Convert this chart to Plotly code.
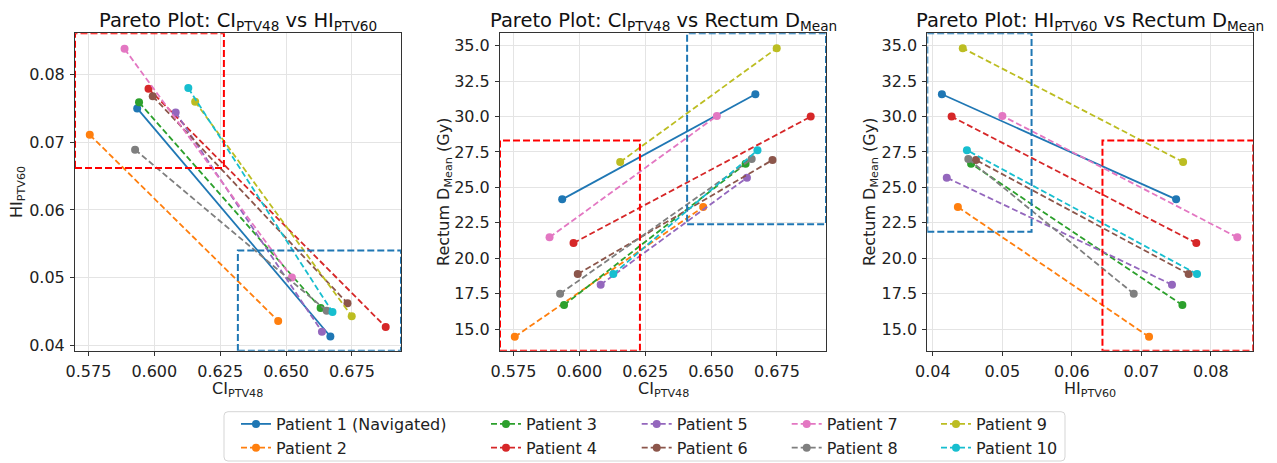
import plotly.graph_objects as go

# ---------------- data ----------------
patients = ["Patient 1 (Navigated)", "Patient 2", "Patient 3", "Patient 4", "Patient 5",
            "Patient 6", "Patient 7", "Patient 8", "Patient 9", "Patient 10"]
colors = ["#1f77b4", "#ff7f0e", "#2ca02c", "#d62728", "#9467bd",
          "#8c564b", "#e377c2", "#7f7f7f", "#bcbd22", "#17becf"]

# plan A (low CI / high HI / low Dmean) and plan B (high CI / low HI / high Dmean)
ci_a = [0.5935, 0.5755, 0.5942, 0.5978, 0.6081, 0.5994, 0.5887, 0.5927, 0.6155, 0.6129]
ci_b = [0.6668, 0.6470, 0.6631, 0.6878, 0.6636, 0.6733, 0.6522, 0.6654, 0.6749, 0.6676]
hi_a = [0.0750, 0.0711, 0.0759, 0.0779, 0.0744, 0.0768, 0.0838, 0.0689, 0.0760, 0.0780]
hi_b = [0.0413, 0.0436, 0.0455, 0.0427, 0.0420, 0.0462, 0.0500, 0.0451, 0.0443, 0.0449]
dmean_a = [24.15, 14.45, 16.69, 21.07, 18.13, 18.88, 21.47, 17.49, 26.79, 18.88]
dmean_b = [31.57, 23.61, 26.67, 29.99, 25.68, 26.93, 30.04, 27.00, 34.82, 27.62]

ci_ticks = [0.575, 0.600, 0.625, 0.650, 0.675]
ci_ticktext = ["0.575", "0.600", "0.625", "0.650", "0.675"]
hi_ticks = [0.04, 0.05, 0.06, 0.07, 0.08]
hi_ticktext = ["0.04", "0.05", "0.06", "0.07", "0.08"]
dmean_ticks = [15.0, 17.5, 20.0, 22.5, 25.0, 27.5, 30.0, 32.5, 35.0]
dmean_ticktext = ["15.0", "17.5", "20.0", "22.5", "25.0", "27.5", "30.0", "32.5", "35.0"]

# highlighted regions (red = low-CI/high-HI/low-dose, blue = high-CI/low-HI/high-dose)
ci_range = [0.5699, 0.6936]
hi_range = [0.0392, 0.0861]
dmean_range = [13.47, 35.87]
p1_red = dict(ci_max=0.6264, hi_min=0.0662)
p1_blue = dict(ci_min=0.6317, hi_max=0.0540)
p2_red = dict(ci_max=0.6230, d_max=28.3)
p2_blue = dict(ci_min=0.6409, d_min=22.4)
p3_blue = dict(hi_max=0.0542, d_min=21.87)
p3_red = dict(hi_min=0.0644, d_max=28.3)

# ---------------- layout geometry (screen px; page body has an 8px margin) ----------------
W, H = 1277, 463
OFF = 8
FONT = "DejaVu Sans"
def px_x(v):
    return (v - OFF) / W
def px_y(v):
    return 1 - (v - OFF) / H

dom_x = [(75, 401), (500, 826), (927.3, 1253.3)]
dom_y_top, dom_y_bot = 33.3, 350.7

fig = go.Figure()

panels = [
    ("x", "y", ci_a, ci_b, hi_a, hi_b),
    ("x2", "y2", ci_a, ci_b, dmean_a, dmean_b),
    ("x3", "y3", hi_a, hi_b, dmean_a, dmean_b),
]
legend_names = ["legend", "legend2", "legend3", "legend4", "legend5"]

for p, (xa, ya, xs_a, xs_b, ys_a, ys_b) in enumerate(panels):
    for i, name in enumerate(patients):
        fig.add_trace(go.Scatter(
            x=[xs_a[i], xs_b[i]], y=[ys_a[i], ys_b[i]],
            xaxis=xa, yaxis=ya, mode="lines+markers", name=name,
            line=dict(color=colors[i], width=1.8, dash="solid" if i == 0 else "6px,3px"),
            marker=dict(color=colors[i], size=8),
            legend=legend_names[i // 2],
            showlegend=(p == 0), legendgroup=name,
        ))

axis_common = dict(showgrid=True, gridcolor="#e4e4e4", gridwidth=1, zeroline=False,
                   showline=True, mirror=True, linecolor="#333333", linewidth=1,
                   ticks="outside", ticklen=4, tickcolor="#333333", ticklabelstandoff=2,
                   tickfont=dict(family=FONT, size=16, color="#222222"))

layout = dict(width=W, height=H, margin=dict(l=0, r=0, t=0, b=0, autoexpand=False),
              paper_bgcolor="white", plot_bgcolor="white",
              font=dict(family=FONT, color="#222222"))
yd = [px_y(dom_y_bot), px_y(dom_y_top)]
xr = [ci_range, ci_range, hi_range]
yr = [hi_range, dmean_range, dmean_range]
xt = [(ci_ticks, ci_ticktext), (ci_ticks, ci_ticktext), (hi_ticks, hi_ticktext)]
yt = [(hi_ticks, hi_ticktext), (dmean_ticks, dmean_ticktext), (dmean_ticks, dmean_ticktext)]
for p in range(3):
    sx = "xaxis" if p == 0 else f"xaxis{p+1}"
    sy = "yaxis" if p == 0 else f"yaxis{p+1}"
    anchor_y = "y" if p == 0 else f"y{p+1}"
    anchor_x = "x" if p == 0 else f"x{p+1}"
    layout[sx] = dict(axis_common, domain=[px_x(dom_x[p][0]), px_x(dom_x[p][1])],
                      range=xr[p], anchor=anchor_y, tickvals=xt[p][0], ticktext=xt[p][1])
    layout[sy] = dict(axis_common, domain=yd, range=yr[p], anchor=anchor_x,
                      tickvals=yt[p][0], ticktext=yt[p][1])
fig.update_layout(**layout)

# ---------------- titles & axis labels ----------------
titles = ["Pareto Plot: CI<sub>PTV48</sub> vs HI<sub>PTV60</sub>",
          "Pareto Plot: CI<sub>PTV48</sub> vs Rectum D<sub>Mean</sub>",
          "Pareto Plot: HI<sub>PTV60</sub> vs Rectum D<sub>Mean</sub>"]
xlabels = ["CI<sub>PTV48</sub>", "CI<sub>PTV48</sub>", "HI<sub>PTV60</sub>"]
ylabels = ["HI<sub>PTV60</sub>", "Rectum D<sub>Mean</sub> (Gy)", "Rectum D<sub>Mean</sub> (Gy)"]
ylabel_x = [17, 444, 870]
for p in range(3):
    cx = (dom_x[p][0] + dom_x[p][1]) / 2
    fig.add_annotation(text=titles[p], x=px_x(cx), y=px_y(21), xref="paper", yref="paper",
                       showarrow=False, xanchor="center", yanchor="middle",
                       font=dict(family=FONT, size=19.5, color="#111111"))
    fig.add_annotation(text=xlabels[p], x=px_x(cx), y=px_y(389), xref="paper", yref="paper",
                       showarrow=False, xanchor="center", yanchor="middle",
                       font=dict(family=FONT, size=16, color="#222222"))
    fig.add_annotation(text=ylabels[p], x=px_x(ylabel_x[p]), y=px_y(192), xref="paper", yref="paper",
                       showarrow=False, xanchor="center", yanchor="middle", textangle=-90,
                       font=dict(family=FONT, size=16, color="#222222"))

# ---------------- highlighted boxes ----------------
def box(xref, yref, x0, x1, y0, y1, color):
    fig.add_shape(type="rect", xref=xref, yref=yref, x0=x0, x1=x1, y0=y0, y1=y1,
                  line=dict(color=color, width=2, dash="7px,3px"),
                  fillcolor="rgba(0,0,0,0)", layer="above")

RED, BLUE = "#ff0000", "#1f77b4"
box("x", "y", ci_range[0], p1_red["ci_max"], p1_red["hi_min"], hi_range[1], RED)
box("x", "y", p1_blue["ci_min"], ci_range[1], hi_range[0], p1_blue["hi_max"], BLUE)
box("x2", "y2", ci_range[0], p2_red["ci_max"], dmean_range[0], p2_red["d_max"], RED)
box("x2", "y2", p2_blue["ci_min"], ci_range[1], p2_blue["d_min"], dmean_range[1], BLUE)
box("x3", "y3", hi_range[0], p3_blue["hi_max"], p3_blue["d_min"], dmean_range[1], BLUE)
box("x3", "y3", p3_red["hi_min"], hi_range[1], dmean_range[0], p3_red["d_max"], RED)

# ---------------- legend (5 columns x 2 rows) ----------------
lx0, lx1, ly0, ly1, r = 224, 1065, 411.7, 461, 4
rx, ry = r / W, r / H
X0, X1, Y0, Y1 = px_x(lx0), px_x(lx1), px_y(ly1), px_y(ly0)
path = (f"M{X0+rx},{Y0} L{X1-rx},{Y0} Q{X1},{Y0} {X1},{Y0+ry} L{X1},{Y1-ry} "
        f"Q{X1},{Y1} {X1-rx},{Y1} L{X0+rx},{Y1} Q{X0},{Y1} {X0},{Y1-ry} "
        f"L{X0},{Y0+ry} Q{X0},{Y0} {X0+rx},{Y0} Z")
fig.add_shape(type="path", path=path, xref="paper", yref="paper",
              line=dict(color="#d5d5d5", width=1), fillcolor="white", layer="below")

text_starts = [276, 526, 676.7, 826.7, 976]
legend_layout = {}
for c, nm in enumerate(legend_names):
    legend_layout[nm] = dict(x=px_x(text_starts[c] - 40), y=px_y(407), xanchor="left", yanchor="top",
                             orientation="v", bgcolor="rgba(0,0,0,0)", borderwidth=0,
                             font=dict(family=FONT, size=16, color="#222222"),
                             tracegroupgap=0)
fig.update_layout(**legend_layout)

fig.write_html("out.html")
